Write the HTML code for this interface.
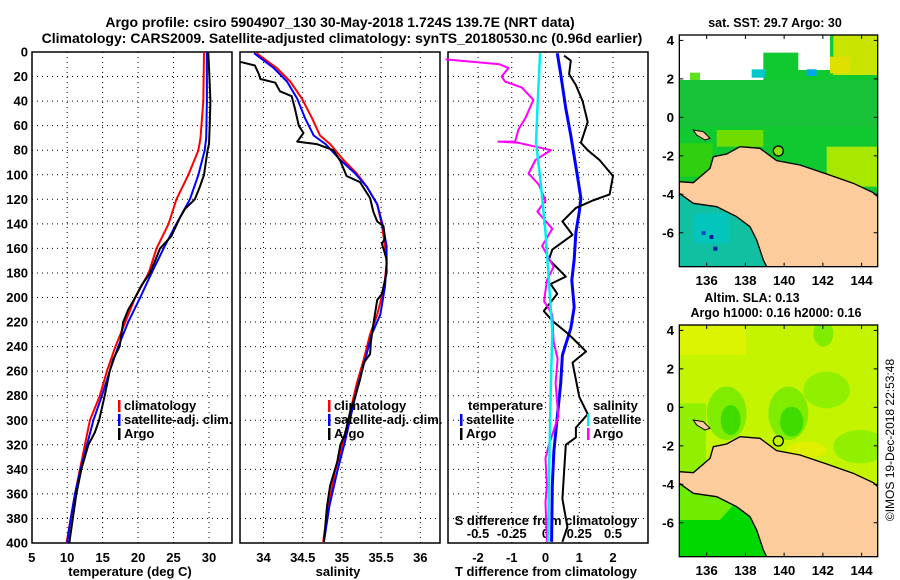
<!DOCTYPE html>
<html><head><meta charset="utf-8"><style>
body{margin:0;background:#fff}
svg{display:block;font-family:"Liberation Sans",sans-serif;font-weight:bold}
</style></head><body>
<svg id="s" width="900" height="580" xmlns="http://www.w3.org/2000/svg">
<text x="340" y="27" font-size="14" text-anchor="middle">Argo profile: csiro 5904907_130 30-May-2018 1.724S 139.7E (NRT data)</text>
<text x="342" y="43" font-size="14" text-anchor="middle">Climatology: CARS2009. Satellite-adjusted climatology: synTS_20180530.nc (0.96d earlier)</text>
<text x="775" y="27" font-size="12.5" text-anchor="middle">sat. SST: 29.7 Argo: 30</text>
<text x="752" y="302" font-size="12.5" text-anchor="middle">Altim. SLA: 0.13</text>
<text x="776" y="317" font-size="12.5" text-anchor="middle">Argo h1000: 0.16 h2000: 0.16</text>
<text transform="translate(894,440) rotate(-90)" font-size="12" font-weight="normal" text-anchor="middle">©IMOS 19-Dec-2018 22:53:48</text>
</svg>
<script>
// ---- data ----
const depthTicks=[0,20,40,60,80,100,120,140,160,180,200,220,240,260,280,300,320,340,360,380,400];
const tempTicks=[5,10,15,20,25,30];
const salTicks=[34,34.5,35,35.5,36];
const tdiffTicks=[-2,-1,0,1,2];
const sdiffTicks=[-0.5,-0.25,0,0.25,0.5];
const argoTDepth=[0,20,40,60,75,80,100,110,120,128,135,150,160,170,180,190,200,210,220,240,250,260,280,300,310,320,340,360,380,400];
const argoTemp=[29.9,30.05,30.2,30.1,30.0,29.8,29.3,28.7,28.0,26.6,25.9,24.7,23.1,22.4,21.7,20.5,19.6,18.6,17.9,17.4,16.5,16.0,15.3,14.5,13.9,13.0,12.0,11.3,10.8,10.3];
const climTDepth=[0,40,70,80,100,120,140,160,180,200,220,240,260,280,300,320,340,360,380,400];
const climTemp=[29.3,29.2,28.8,28.5,27.1,25.4,24.3,22.6,21.5,19.6,18.2,16.8,15.6,14.6,13.2,12.5,11.8,11.1,10.5,9.9];
const satTemp=[29.7,29.7,29.6,29.4,28.5,27.3,25.4,23.6,21.9,20.3,18.6,17.2,16.0,14.9,13.7,12.8,11.9,11.1,10.5,10.0];
const argoSDepth=[8,11,18,22,25,32,36,46,60,66,73,75,80,89,101,106,119,130,138,142,152,156,169,180,197,202,222,236,246,253,267,281,292,311,320,334,353,370,399];
const argoSal=[33.70,33.89,33.94,33.96,34.15,34.21,34.36,34.40,34.45,34.51,34.43,34.68,34.89,34.98,35.06,35.23,35.36,35.40,35.45,35.53,35.55,35.51,35.57,35.57,35.51,35.45,35.40,35.37,35.36,35.28,35.23,35.17,35.11,35.04,34.98,34.94,34.85,34.81,34.77];
const climSDepth=[1,13,24,38,54,68,75,88,99,110,124,141,158,172,191,214,230,250,270,292,317,342,370,399];
const climSal=[33.91,34.17,34.34,34.49,34.62,34.72,34.85,35.02,35.19,35.32,35.45,35.51,35.55,35.57,35.54,35.45,35.36,35.28,35.19,35.11,35.02,34.91,34.83,34.76];
const satSal=[33.88,34.13,34.30,34.43,34.53,34.64,34.79,34.98,35.17,35.32,35.45,35.52,35.57,35.57,35.55,35.49,35.38,35.30,35.21,35.13,35.04,34.94,34.84,34.77];
const satTdDepth=[1,18,46,68,85,102,119,130,147,169,186,208,225,247,270,297,325,353,399];
const satTdiff=[0.35,0.45,0.60,0.75,0.85,0.95,1.05,1.0,0.9,0.85,0.78,0.85,0.75,0.5,0.45,0.35,0.25,0.2,0.18];
const argoTdDepth=[3,7,18,27,40,57,74,80,88,101,116,121,127,138,149,161,169,183,189,197,211,219,228,233,244,253,267,281,295,306,314,320,342,364,387,399];
const argoTdiff=[0.55,0.75,0.7,0.9,1.1,1.25,1.05,1.25,1.6,2.0,1.9,1.4,0.9,0.5,0.8,0.2,0.1,0.6,0.15,0.35,-0.05,0.2,0.6,0.8,1.2,0.8,0.9,1.0,1.25,0.9,0.9,0.6,0.55,0.5,0.65,0.5];
const argoSdDepth=[6,10,13,20,24,29,39,54,63,73,73,74,80,88,99,108,121,130,144,158,175,186,203,214,236,250,270,297,320,331,353,367,399];
const argoSdiff=[-0.74,-0.34,-0.275,-0.325,-0.3,-0.175,-0.09,-0.15,-0.2,-0.225,-0.35,-0.2,0.04,-0.075,-0.125,-0.05,0,-0.06,0.05,-0.025,0.06,0.01,-0.01,0.05,0.06,0.09,0.075,0.095,0.025,0,0.01,0,0.01];
const satSdDepth=[1,46,74,102,147,186,228,270,325,399];
const satSdiff=[-0.04,-0.06,-0.07,-0.04,0,0.025,0.05,0.04,0.03,0.02];

// ---- helpers ----
const S=document.getElementById('s'),NS='http://www.w3.org/2000/svg';
function mk(tag,at,parent){const e=document.createElementNS(NS,tag);for(const k in at)e.setAttribute(k,at[k]);(parent||S).appendChild(e);return e;}
const TOP=52,BOT=543;
const yD=d=>TOP+d*(BOT-TOP)/400;
const P1={l:32,r:232,x:v=>31.7+(v-5)*177.3/25};
const P2={l:240,r:440,x:v=>240+(v-33.70)*78.4};
const P3={l:448,r:648,x:v=>545.5+v*33.75};
const xS3=v=>545.5+v*135;

function frame(P,name){
  const g=mk('g',{});
  
  
  mk('rect',{x:P.l,y:TOP,width:P.r-P.l,height:BOT-TOP,fill:'#fff',stroke:'#000','stroke-width':1.5},g);
  depthTicks.forEach(d=>{if(d>0&&d<400){const l=mk('line',{x1:P.l,x2:P.r,y1:yD(d),y2:yD(d),stroke:'#000','stroke-width':1,'stroke-dasharray':'1,4'},g);}});
  return g;
}
function vgrid(g,P,ticks,fx){ticks.forEach(v=>{const x=fx(v);if(x>P.l+2&&x<P.r-2){const l=mk('line',{x1:x,x2:x,y1:TOP,y2:BOT,stroke:'#000','stroke-width':1,'stroke-dasharray':'1,4'},g);}});}
function line(xs,ds,fx,col,w,name){
  const pts=xs.map((v,i)=>fx(v).toFixed(1)+','+yD(ds[i]).toFixed(1)).join(' ');
  const p=mk('polyline',{points:pts,fill:'none',stroke:col,'stroke-width':w,'stroke-linejoin':'round'});
  
  
}
function txt(x,y,s,sz,anchor,name){const t=mk('text',{x:x,y:y,'font-size':sz,'text-anchor':anchor||'start'});t.textContent=s;return t;}
function legend(x,y,col,label,name){const r=mk('rect',{x:x,y:y-10,width:2.5,height:12,fill:col});txt(x+6,y,label,13,'start',name);}

// ---- panel 1: temperature ----
const g1=frame(P1,'temperature-panel');vgrid(g1,P1,tempTicks,P1.x);
depthTicks.forEach(d=>txt(28,yD(d)+4.5,String(d),13,'end','depth-tick-label'));
tempTicks.forEach(v=>txt(P1.x(v),562,String(v),13,'middle','temp-tick-label'));
txt(130,576,'temperature (deg C)',13,'middle','temperature-axis-title');
line(climTemp,climTDepth,P1.x,'#f00',2,'temp-climatology-line');
line(satTemp,climTDepth,P1.x,'#00f',2,'temp-satellite-line');
line(argoTemp,argoTDepth,P1.x,'#000',2,'temp-argo-line');
legend(118,410,'#f00','climatology','legend-climatology');
legend(118,424,'#00f','satellite-adj. clim.','legend-satellite-adj');
legend(118,438,'#000','Argo','legend-argo');

// ---- panel 2: salinity ----
const g2=frame(P2,'salinity-panel');vgrid(g2,P2,salTicks,P2.x);
salTicks.forEach(v=>txt(P2.x(v),562,String(v),13,'middle','sal-tick-label'));
txt(338,576,'salinity',13,'middle','salinity-axis-title');
line(climSal,climSDepth,P2.x,'#f00',2,'sal-climatology-line');
line(satSal,climSDepth,P2.x,'#00f',2,'sal-satellite-line');
line(argoSal,argoSDepth,P2.x,'#000',2,'sal-argo-line');
legend(328,410,'#f00','climatology','legend-sal-climatology');
legend(328,424,'#00f','satellite-adj. clim.','legend-sal-satellite-adj');
legend(328,438,'#000','Argo','legend-sal-argo');

// ---- panel 3: differences ----
const g3=frame(P3,'difference-panel');vgrid(g3,P3,tdiffTicks,P3.x);
tdiffTicks.forEach(v=>txt(P3.x(v),562,String(v),13,'middle','tdiff-tick-label'));
sdiffTicks.forEach(v=>txt(xS3(v),538,String(v),13,'middle','sdiff-tick-label'));
txt(546,525,'S difference from climatology',13,'middle','sdiff-axis-title');
txt(546,576,'T difference from climatology',13,'middle','tdiff-axis-title');
line(satTdiff,satTdDepth,P3.x,'#00f',3,'tdiff-satellite-line');
line(argoTdiff,argoTdDepth,P3.x,'#000',2,'tdiff-argo-line');
line(argoSdiff,argoSdDepth,xS3,'#f0f',2,'sdiff-argo-line');
line(satSdiff,satSdDepth,xS3,'#0ee',2.5,'sdiff-satellite-line');
txt(468,410,'temperature',13,'start','legend-temperature-heading');
legend(460,424,'#00f','satellite','legend-tdiff-satellite');
legend(460,438,'#000','Argo','legend-tdiff-argo');
txt(593,410,'salinity',13,'start','legend-salinity-heading');
legend(587,424,'#0ee','satellite','legend-sdiff-satellite');
legend(587,438,'#f0f','Argo','legend-sdiff-argo');

// ---- maps ----
const latTicks=[4,2,0,-2,-4,-6], lonTicks=[136,138,140,142,144];
const land="58,545 100,548 150,505 160,470 200,462 240,440 300,445 350,482 420,495 500,522 580,550 640,578 653,590 653,800 320,800 310,780 290,720 270,680 230,650 170,620 100,610 58,580";
function drawMap(oy,kind,id){
  const g=mk('g',{transform:`translate(660,${oy}) scale(0.33333)`});
  
  
  const cp=mk('clipPath',{id:id},g);mk('rect',{x:58,y:105,width:595,height:695},cp);
  const c=mk('g',{'clip-path':`url(#${id})`},g);
  if(kind==='sst'){
    mk('rect',{x:58,y:105,width:595,height:695,fill:'#fff'},c);
    mk('polygon',{points:'58,240 310,240 310,158 415,158 415,210 510,210 510,105 653,105 653,800 58,800',fill:'#10c830'},c);
    mk('rect',{x:58,y:240,width:595,height:140,fill:'#20c040',opacity:0.6},c);
    mk('rect',{x:520,y:105,width:133,height:120,fill:'#c8e400'},c);
    mk('rect',{x:510,y:170,width:60,height:50,fill:'#e0e000'},c);
    mk('rect',{x:500,y:440,width:153,height:120,fill:'#a8e800'},c);
    mk('rect',{x:170,y:390,width:140,height:50,fill:'#70dc00'},c);
    mk('rect',{x:58,y:430,width:100,height:100,fill:'#30d010'},c);
    mk('rect',{x:275,y:208,width:40,height:25,fill:'#00c8c8'},c);
    mk('rect',{x:440,y:208,width:30,height:20,fill:'#00a8e8'},c);
    mk('rect',{x:90,y:218,width:30,height:22,fill:'#60e020'},c);
    mk('polygon',{points:'58,580 100,610 170,620 230,650 270,680 290,720 310,780 320,800 58,800',fill:'#10c0a0'},c);
    mk('rect',{x:100,y:640,width:110,height:90,fill:'#00c8c8',opacity:0.7},c);
    mk('rect',{x:125,y:693,width:12,height:12,fill:'#0050c0'},c);
    mk('rect',{x:148,y:705,width:12,height:12,fill:'#0020a0'},c);
    mk('rect',{x:160,y:740,width:12,height:12,fill:'#0020a0'},c);
  } else {
    mk('rect',{x:58,y:105,width:595,height:695,fill:'#c4f400'},c);
    mk('rect',{x:58,y:105,width:200,height:90,fill:'#dcf400'},c);
    mk('ellipse',{cx:500,cy:300,rx:70,ry:55,fill:'#90f000'},c);
    mk('ellipse',{cx:200,cy:370,rx:60,ry:80,fill:'#80ec00'},c);
    mk('ellipse',{cx:212,cy:390,rx:30,ry:45,fill:'#40dc00'},c);
    mk('ellipse',{cx:385,cy:370,rx:60,ry:80,fill:'#80ec00'},c);
    mk('ellipse',{cx:395,cy:395,rx:35,ry:45,fill:'#40dc00'},c);
    mk('ellipse',{cx:490,cy:130,rx:30,ry:40,fill:'#80ec00'},c);
    mk('ellipse',{cx:600,cy:470,rx:80,ry:50,fill:'#90f000'},c);
    mk('rect',{x:58,y:340,width:80,height:220,fill:'#90f000'},c);
    mk('ellipse',{cx:440,cy:480,rx:60,ry:25,fill:'#e0f000'},c);
    mk('polygon',{points:'58,580 100,610 170,620 230,650 270,680 290,720 310,780 320,800 58,800',fill:'#00d800'},c);
    mk('polygon',{points:'58,580 100,610 170,620 220,645 180,690 58,690',fill:'#70ec00'},c);
  }
  const L=mk('polygon',{points:land,fill:'#fccc9c',stroke:'#000','stroke-width':4},c);
  
  mk('polygon',{points:'100,390 130,395 150,415 135,420 110,405',fill:'#fccc9c',stroke:'#000','stroke-width':3},c);
  const ci=mk('circle',{cx:355,cy:453,r:15,fill:kind==='sst'?'#90e000':'none',stroke:'#000','stroke-width':4},g);
  
  mk('rect',{x:58,y:105,width:595,height:695,fill:'none',stroke:'#000','stroke-width':4},g);
  latTicks.forEach(v=>{const y=352-v*57.7;mk('line',{x1:58,x2:70,y1:y,y2:y,stroke:'#000','stroke-width':3},g);mk('line',{x1:641,x2:653,y1:y,y2:y,stroke:'#000','stroke-width':3},g);
    const t=mk('text',{x:42,y:y+14,'font-size':40,'text-anchor':'end'},g);t.textContent=String(v);});
  lonTicks.forEach(v=>{const x=140+(v-136)*58.1;mk('line',{x1:x,x2:x,y1:788,y2:800,stroke:'#000','stroke-width':3},g);mk('line',{x1:x,x2:x,y1:105,y2:117,stroke:'#000','stroke-width':3},g);
    const t=mk('text',{x:x,y:855,'font-size':40,'text-anchor':'middle'},g);t.textContent=String(v);});
}
drawMap(0,'sst','c1');
drawMap(290,'sla','c2');
</script>
</body></html>
